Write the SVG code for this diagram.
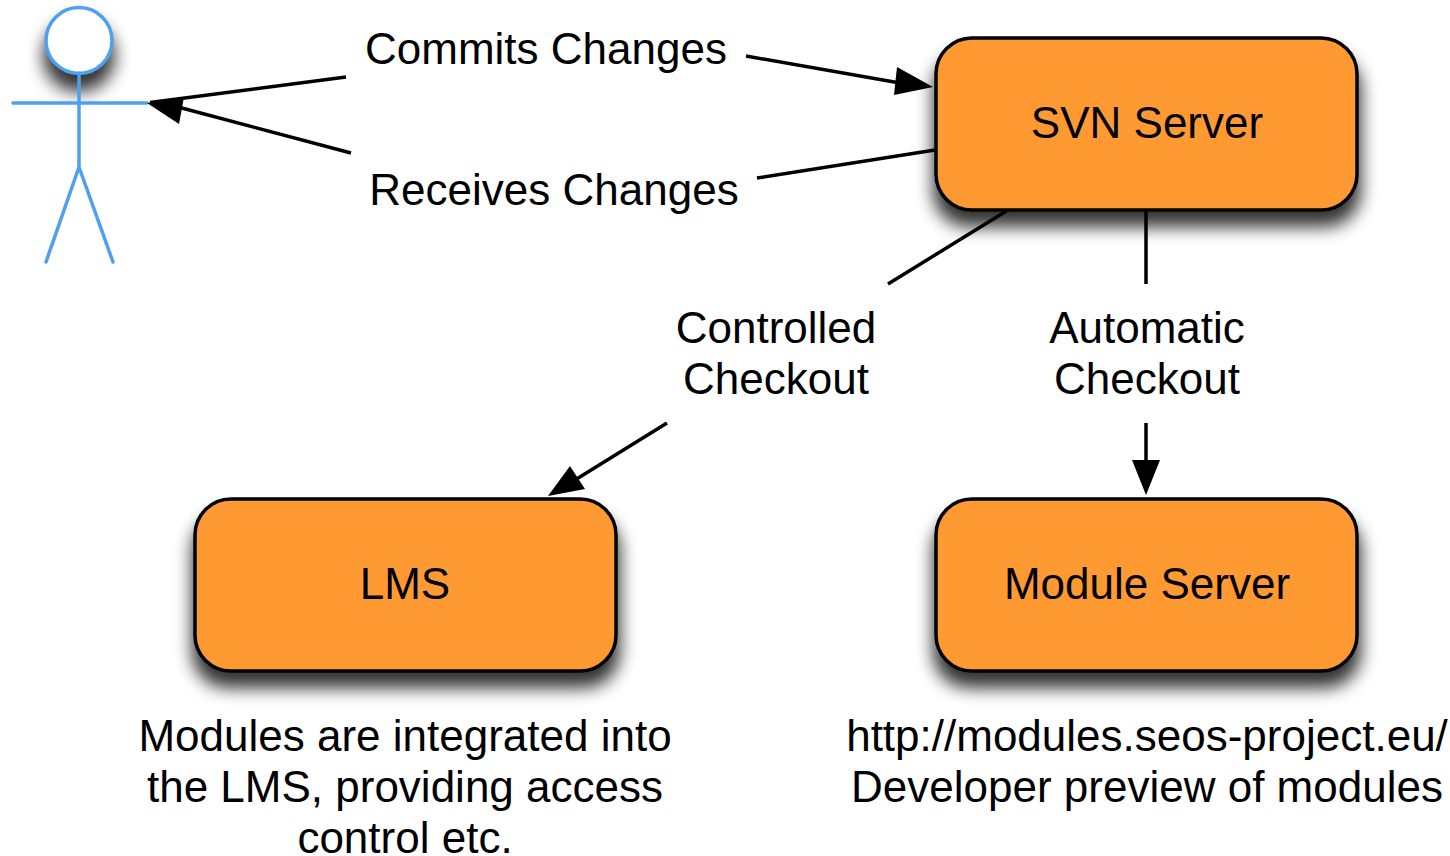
<svg xmlns="http://www.w3.org/2000/svg" width="1450" height="856" viewBox="0 0 1450 856">
<style>
text{font-family:"Liberation Sans",Arial,sans-serif;font-size:44px;fill:#000;text-anchor:middle}
.box{fill:#ff9a33;stroke:#000;stroke-width:3.5}
.sh{fill:#000;opacity:.8}
.c{fill:none;stroke:#000;stroke-width:3.5}
.a{fill:none;stroke:#4f9ff2;stroke-width:3.5;stroke-linecap:round}
</style>
<defs>
<filter id="s" x="-20%" y="-40%" width="140%" height="180%"><feGaussianBlur stdDeviation="8.500"/></filter>
</defs>
<rect width="1450" height="856" fill="#fff"/>
<g id="actor">
<circle class="sh" cx="79" cy="56" r="36" filter="url(#s)"/>
<circle cx="79" cy="40.500" r="33" fill="#fff" stroke="#4f9ff2" stroke-width="3.5"/>
<path class="a" d="M79 73V167M13 103H147M79 167L46 262M79 167L113 262"/>
</g>
<g id="connectors">
<path class="c" d="M346 77L150 102.500M351 153L178 107M746 56L900 83M935 150L757 178M1008 210L888 284M1146 210V284M667 423L575 480M1146 423V465"/>
<path d="M147 103L184 97L179 124Z"/>
<path d="M933 87L897 67L894 95Z"/>
<path d="M548 496L570 466L585 489Z"/>
<path d="M1146 495L1132 460H1160Z"/>
</g>
<g id="svn"><rect class="sh" x="933" y="53" width="428" height="174" rx="36" filter="url(#s)"/><rect class="box" x="936" y="38" width="421" height="172" rx="36"/><text x="1147" y="138">SVN Server</text></g>
<g id="lms"><rect class="sh" x="192" y="514" width="428" height="174" rx="36" filter="url(#s)"/><rect class="box" x="195" y="499" width="421" height="172" rx="36"/><text x="405" y="599">LMS</text></g>
<g id="module"><rect class="sh" x="933" y="514" width="428" height="174" rx="36" filter="url(#s)"/><rect class="box" x="936" y="499" width="421" height="172" rx="36"/><text x="1147" y="599">Module Server</text></g>
<g id="labels">
<text x="546" y="64">Commits Changes</text>
<text x="554" y="205">Receives Changes</text>
<text x="776" y="343">Controlled</text>
<text x="776" y="394">Checkout</text>
<text x="1147" y="343">Automatic</text>
<text x="1147" y="394">Checkout</text>
<text x="405" y="751">Modules are integrated into</text>
<text x="405" y="802">the LMS, providing access</text>
<text x="405" y="853">control etc.</text>
<text x="1147" y="751">http://modules.seos-project.eu/</text>
<text x="1147" y="802">Developer preview of modules</text>
</g>
</svg>
